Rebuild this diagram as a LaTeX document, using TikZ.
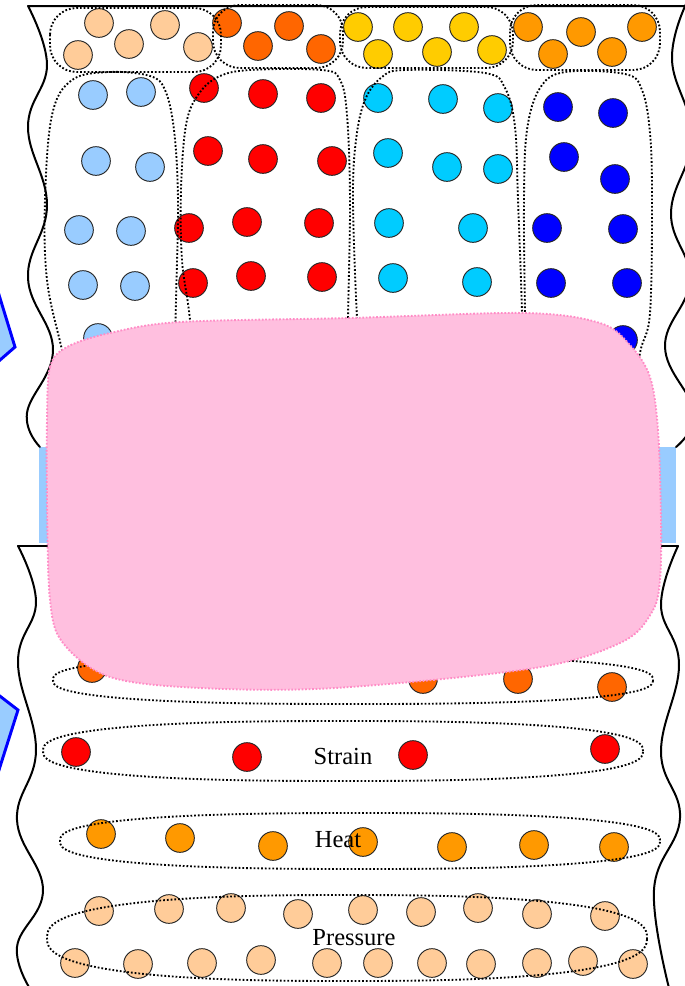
\documentclass[tikz,border=0pt]{standalone}
\usepackage{fontspec}
\setmainfont{Liberation Serif}
\definecolor{peach}{HTML}{FFCC99}
\definecolor{dorange}{HTML}{FF6600}
\definecolor{gold}{HTML}{FFCC00}
\definecolor{lorange}{HTML}{FF9900}
\definecolor{lblue}{HTML}{99CCFF}
\definecolor{cyanc}{HTML}{00CCFF}
\definecolor{bluec}{HTML}{0000FF}
\definecolor{redc}{HTML}{FF0000}
\definecolor{pinkf}{HTML}{FFBFDF}
\definecolor{pinkd}{HTML}{FF8CC6}
\newcommand\superell[4]{\draw[dotline] plot[domain=0.7:360.7,samples=121,variable=\t]
  ({#1+#3*sign(cos(\t))*abs(cos(\t))^0.78},{#2+#4*sign(sin(\t))*abs(sin(\t))^0.78}) -- cycle;}
\begin{document}
\begin{tikzpicture}[x=0.75pt,y=-0.75pt,
  wave/.style={draw=black,line width=1.5pt,line join=round,line cap=round},
  dotline/.style={draw=black,line width=1.4pt,dash pattern=on 1.3pt off 1.5pt},
  ball/.style={circle,draw=black!85,line width=0.7pt,minimum size=21.5pt,inner sep=0pt},
  lbl/.style={font=\fontsize{18.4pt}{20pt}\selectfont,inner sep=0pt,text=black},
  wedge/.style={draw=bluec,line width=2.2pt,fill=lblue,line join=miter}]
\useasboundingbox (0,0) rectangle (685,986);
\clip (0,0) rectangle (685,986);

% blue band and side wedges
\fill[lblue] (39,447) rectangle (676,543);
\draw[wedge] (-8,272) -- (15,347) -- (-8,367) -- cycle;
\draw[wedge] (-8,690) -- (18,710) -- (-8,792) -- cycle;

% boundaries of the upper block
\draw[wave] plot[smooth,tension=0.7] coordinates {(40,447) (27,413) (53,350) (28,278) (47,205) (28,127) (47,65) (28,6)} -- (690,6);
\draw[wave] plot[smooth,tension=0.7] coordinates {(687,2) (672,60) (692,137) (671,213) (690,280) (665,347) (694,412) (676,447)};
% boundaries of the lower block
\draw[wave] (678,546) -- (18,546);
\draw[wave] plot[smooth,tension=0.7] coordinates {(18,546) (36,602) (18,662) (36,750) (17,820) (43,890) (17,947) (32,992)};
\draw[wave] plot[smooth,tension=0.7] coordinates {(678,546) (661,605) (679,665) (661,752) (680,818) (654,890) (670,992)};

% upper block balls
\foreach \x/\y in {99/23,165/25,129/44,198/47,78/55}
  \node[ball,fill=peach] at (\x,\y) {};
\foreach \x/\y in {227/23,289/26,258/46,321/49}
  \node[ball,fill=dorange] at (\x,\y) {};
\foreach \x/\y in {358/27,408/27,464/27,378/54,437/52,492/50}
  \node[ball,fill=gold] at (\x,\y) {};
\foreach \x/\y in {528/27,581/32,642/27,553/54,612/52}
  \node[ball,fill=lorange] at (\x,\y) {};
\foreach \x/\y in {93/95,141/92,96/161,150/167,79/230,131/231,83/285,135/286,98/338}
  \node[ball,fill=lblue] at (\x,\y) {};
\foreach \x/\y in {204/88,263/94,321/98,208/151,263/159,332/161,189/228,247/222,319/223,193/283,251/276,322/277}
  \node[ball,fill=redc] at (\x,\y) {};
\foreach \x/\y in {378/98,443/99,498/108,388/153,447/167,498/169,389/223,473/228,393/278,477/282}
  \node[ball,fill=cyanc] at (\x,\y) {};
\foreach \x/\y in {558/107,613/113,564/157,615/179,547/228,623/229,551/283,627/283,623/340}
  \node[ball,fill=bluec] at (\x,\y) {};

% upper block groups
\draw[dotline,rounded corners=20pt] (50,8) rectangle (221,72);
\draw[dotline,rounded corners=20pt] (213,5) rectangle (343,68);
\draw[dotline,rounded corners=20pt] (340,7) rectangle (513,68);
\draw[dotline,rounded corners=20pt] (510,5) rectangle (660,70);
\draw[dotline] plot[smooth,tension=0.6] coordinates {(78,420) (62,350) (47,280) (45,200) (52,115) (72,80) (110,72) (150,76) (165,90) (174,130) (178,200) (176,300) (173,420)};
\draw[dotline] plot[smooth,tension=0.6] coordinates {(198,420) (190,320) (182,260) (181,190) (186,125) (198,95) (218,77) (250,70) (322,70) (340,80) (347,115) (350,200) (348,318) (346,420)};
\draw[dotline] plot[smooth,tension=0.6] coordinates {(364,420) (357,318) (353,200) (356,140) (365,100) (382,77) (405,70) (485,73) (505,88) (515,127) (518,200) (522,313) (524,420)};
\draw[dotline] plot[smooth,tension=0.6] coordinates {(527,420) (525,313) (524,200) (527,130) (540,88) (565,72) (625,74) (642,90) (650,133) (652,200) (650,313) (640,353) (630,420)};

% lower block balls
\foreach \x/\y in {92/668,423/679,518/679,612/687}
  \node[ball,fill=dorange] at (\x,\y) {};
\foreach \x/\y in {76/752,247/757,413/755,605/749}
  \node[ball,fill=redc] at (\x,\y) {};
\foreach \x/\y in {101/834,180/838,273/846,363/842,452/847,534/845,614/847}
  \node[ball,fill=lorange] at (\x,\y) {};
\foreach \x/\y in {99/911,169/909,231/908,298/914,363/910,421/912,478/908,537/914,605/916,
                   75/963,138/964,202/963,261/960,327/963,378/963,432/963,481/964,537/963,583/961,633/964}
  \node[ball,fill=peach] at (\x,\y) {};

% lower block groups
\superell{353}{680}{300}{24}
\superell{343}{751}{300}{30}
\superell{360}{841}{300}{28}
\superell{347}{938}{300}{43}

% pink blob
\draw[fill=pinkf,draw=pinkd,line width=1.4pt,dash pattern=on 1.3pt off 1.3pt]
  plot[smooth cycle,tension=0.55] coordinates {(47,420) (50,367) (67,347) (110,333) (180,322) (350,318) (525,313) (600,323) (630,345) (650,377) (658,430) (661,520) (660,580) (652,612) (622,642) (535,668) (335,688) (200,688) (110,677) (63,643) (50,600) (47,500)};

% labels
\node[lbl] (strain) at (343,756) {Strain};
\node[lbl] (heat) at (338,840) {Heat};
\node[lbl] (pressure) at (354,938) {Pressure};
\end{tikzpicture}
\end{document}
